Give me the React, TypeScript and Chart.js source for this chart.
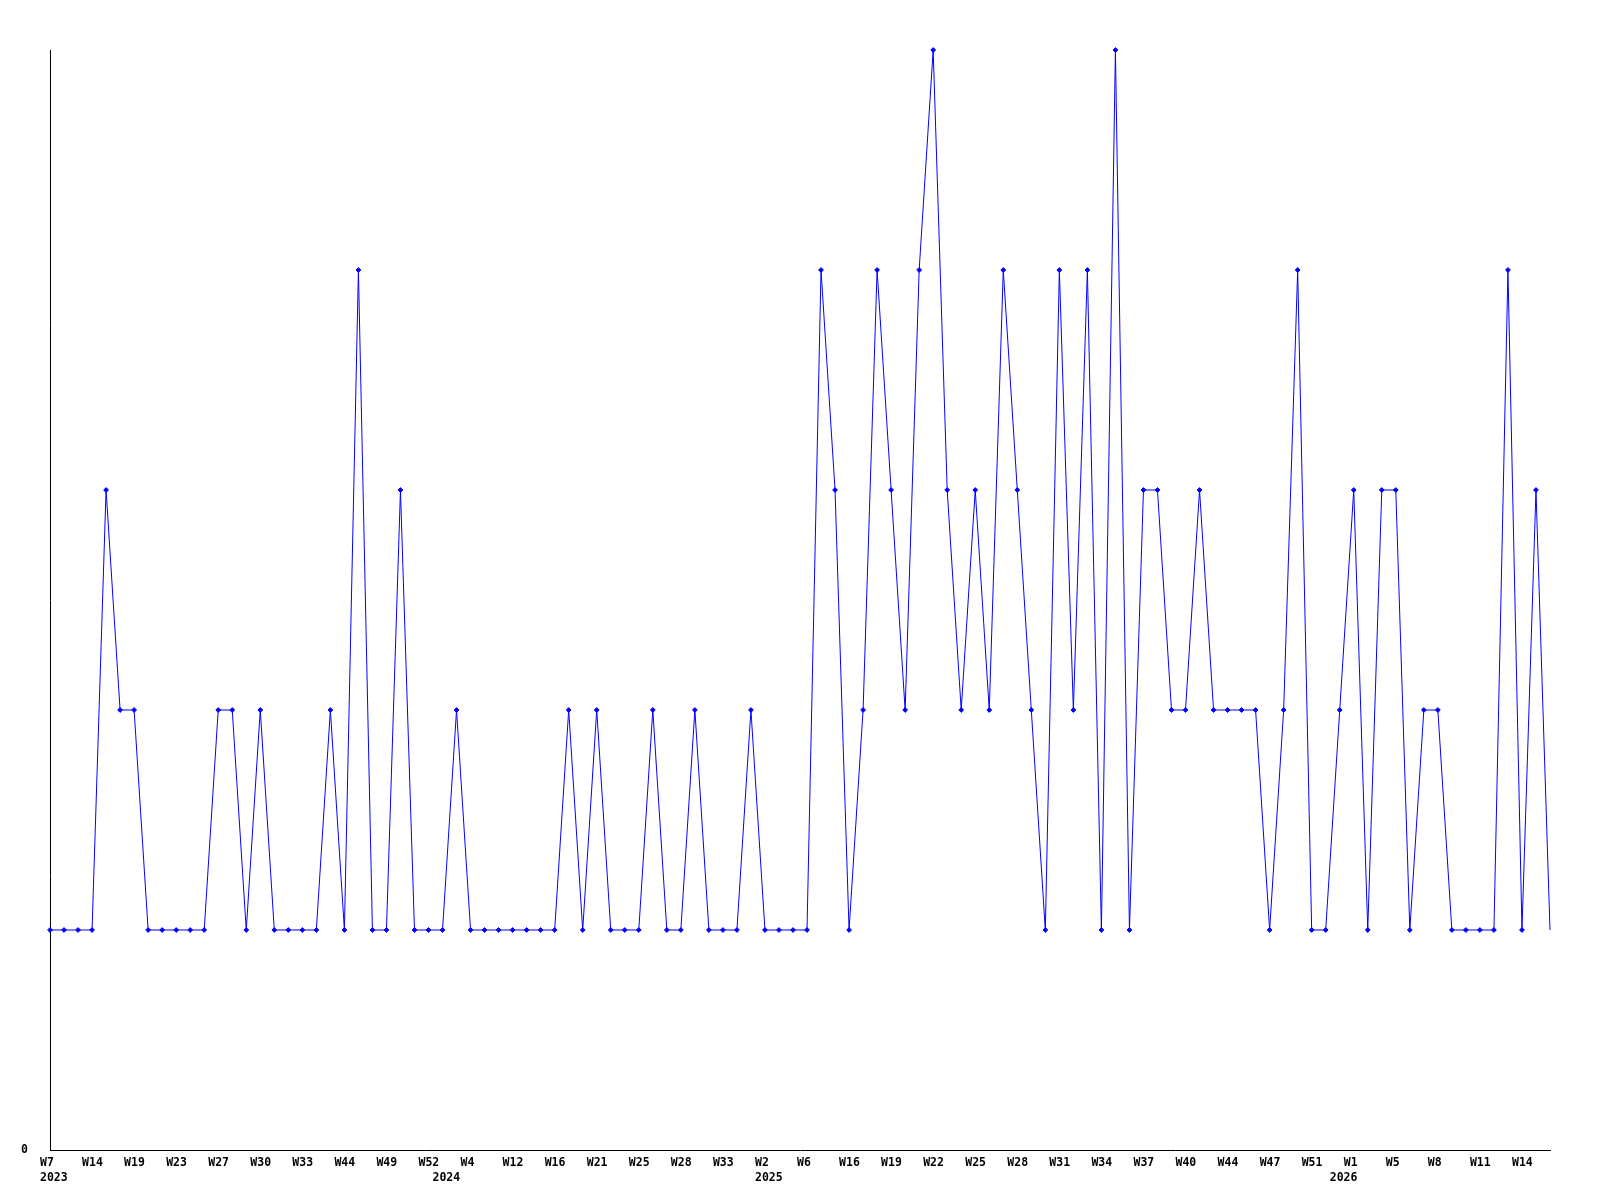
import React, { useEffect, useRef } from "react";
import { Chart, registerables } from "chart.js";

Chart.register(...registerables);

// Weekly values (one per sample)
const values: number[] = [
  1, 1, 1, 1, 3, 2, 2, 1, 1, 1,
  1, 1, 2, 2, 1, 2, 1, 1, 1, 1,
  2, 1, 4, 1, 1, 3, 1, 1, 1, 2,
  1, 1, 1, 1, 1, 1, 1, 2, 1, 2,
  1, 1, 1, 2, 1, 1, 2, 1, 1, 1,
  2, 1, 1, 1, 1, 4, 3, 1, 2, 4,
  3, 2, 4, 5, 3, 2, 3, 2, 4, 3,
  2, 1, 4, 2, 4, 1, 5, 1, 3, 3,
  2, 2, 3, 2, 2, 2, 2, 1, 2, 4,
  1, 1, 2, 3, 1, 3, 3, 1, 2, 2,
  1, 1, 1, 1, 4, 1, 3, 1,
];

// Week tick labels, shown on every third sample
const weekLabels: string[] = [
  "W7", "W14", "W19", "W23", "W27", "W30", "W33", "W44", "W49", "W52",
  "W4", "W12", "W16", "W21", "W25", "W28", "W33", "W2", "W6", "W16",
  "W19", "W22", "W25", "W28", "W31", "W34", "W37", "W40", "W44", "W47",
  "W51", "W1", "W5", "W8", "W11", "W14",
];
const weekLabelEvery = 3;

// Year labels: sample index where each year begins
const yearIndex: number[] = [0, 28, 51, 92];
const yearLabels: string[] = ["2023", "2024", "2025", "2026"];

const categories: string[] = values.map((_, i) => String(i));

const FONT = "'DejaVu Sans Mono', 'Liberation Mono', monospace";

export default function App() {
  const ref = useRef<HTMLCanvasElement | null>(null);

  useEffect(() => {
    const canvas = ref.current;
    if (!canvas) return;
    const last = values.length - 1;
    const chart = new Chart(canvas, {
      type: "line",
      data: {
        labels: categories,
        datasets: [
          {
            data: values,
            borderColor: "#0000ff",
            backgroundColor: "#0000ff",
            borderWidth: 1,
            pointStyle: "rectRot",
            pointRadius: (ctx: any) => (ctx.dataIndex === last ? 0 : 2.4),
            pointBorderWidth: 1,
            pointBorderColor: "#0000ff",
            pointBackgroundColor: "#0000ff",
            tension: 0,
            fill: false,
            clip: false as any,
          },
        ],
      },
      options: {
        responsive: false,
        animation: false,
        events: [],
        layout: { padding: { top: 50, right: 50, left: 0, bottom: 0 } },
        plugins: {
          legend: { display: false },
          tooltip: { enabled: false },
          title: { display: false },
        },
        scales: {
          x: {
            type: "category",
            offset: false,
            grid: { display: false },
            border: { display: true, color: "#000", width: 1 },
            afterFit: (scale: any) => {
              scale.height = 50;
            },
            ticks: {
              autoSkip: false,
              maxRotation: 0,
              minRotation: 0,
              align: "start",
              labelOffset: -10,
              padding: -3,
              color: "#000",
              font: { family: FONT, size: 11.5, weight: "bold", lineHeight: 1.34 },
              callback: (_v: any, idx: number) => {
                const w =
                  idx % weekLabelEvery === 0 ? weekLabels[idx / weekLabelEvery] ?? "" : "";
                const yi = yearIndex.indexOf(idx);
                if (yi >= 0) return [w, yearLabels[yi]];
                return w;
              },
            },
          },
          y: {
            min: 0,
            max: 5,
            grid: { display: false },
            border: { display: true, color: "#000", width: 1 },
            afterFit: (scale: any) => {
              scale.width = 50;
            },
            ticks: {
              stepSize: 1,
              padding: 14,
              color: "#000",
              font: { family: FONT, size: 11.5, weight: "bold" },
              callback: (v: any) => (v === 0 ? "0" : ""),
            },
          },
        },
      },
    });
    return () => chart.destroy();
  }, []);

  return (
    <div style={{ position: "absolute", left: 0, top: 0, width: 1600, height: 1200, background: "#fff" }}>
      <canvas ref={ref} width={1600} height={1200} style={{ width: 1600, height: 1200, display: "block" }} />
    </div>
  );
}
